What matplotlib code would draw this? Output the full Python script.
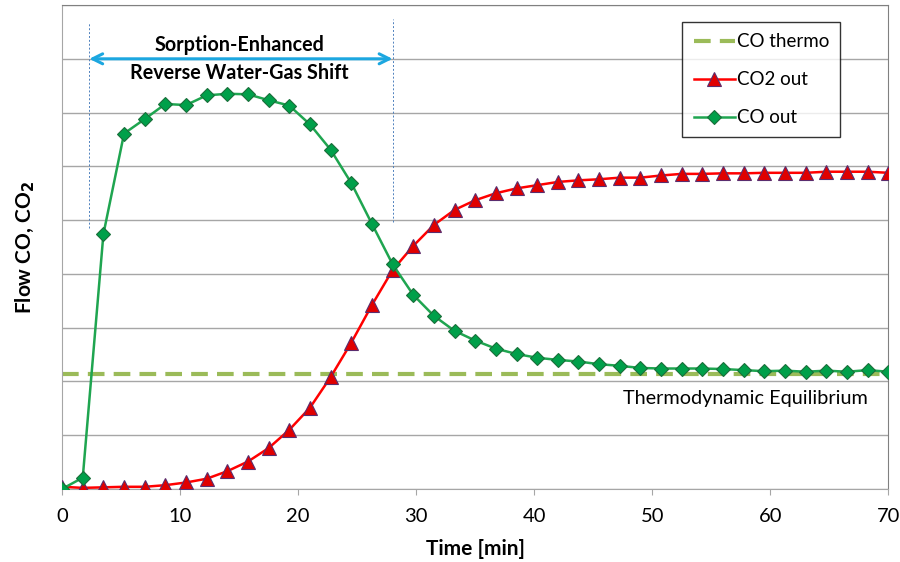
import matplotlib
matplotlib.use('Agg')
import matplotlib.pyplot as plt
import numpy as np

plt.rcParams['font.family'] = ['Lato', 'DejaVu Sans']

# time axis, sample every 1.75 min
time_min = [0, 1.75, 3.5, 5.25, 7, 8.75, 10.5, 12.25, 14, 15.75, 17.5, 19.25,
            21, 22.75, 24.5, 26.25, 28, 29.75, 31.5, 33.25, 35, 36.75, 38.5,
            40.25, 42, 43.75, 45.5, 47.25, 49, 50.75, 52.5, 54.25, 56, 57.75,
            59.5, 61.25, 63, 64.75, 66.5, 68.25, 70]

co_out = [0.0, 0.21, 4.74, 6.61, 6.88, 7.16, 7.14, 7.32, 7.35, 7.34, 7.23, 7.13,
          6.78, 6.31, 5.69, 4.93, 4.18, 3.61, 3.22, 2.94, 2.76, 2.61, 2.51,
          2.44, 2.40, 2.37, 2.32, 2.29, 2.25, 2.24, 2.24, 2.24, 2.23, 2.21,
          2.19, 2.20, 2.18, 2.20, 2.18, 2.21, 2.18]

co2_out = [0.04, 0.02, 0.03, 0.04, 0.04, 0.07, 0.12, 0.19, 0.33, 0.51, 0.76, 1.10,
           1.51, 2.08, 2.72, 3.42, 4.07, 4.52, 4.91, 5.19, 5.37, 5.50, 5.59,
           5.65, 5.71, 5.74, 5.76, 5.79, 5.79, 5.83, 5.86, 5.86, 5.87, 5.87,
           5.88, 5.88, 5.88, 5.90, 5.90, 5.90, 5.88]

co_thermo = 2.13
sorption_window = [2.3, 28.0]
xticks = [0, 10, 20, 30, 40, 50, 60, 70]

fig = plt.figure(figsize=(9, 5.62), dpi=100)
ax = fig.add_axes([0.069, 0.13, 0.918, 0.861])

# gridlines
ax.set_ylim(0, 9)
ax.set_xlim(0, 70)
ax.set_yticks(np.arange(0, 10, 1))
ax.yaxis.grid(True, color='#a6a6a6', lw=1)
ax.set_axisbelow(True)
ax.tick_params(axis='y', length=0, labelleft=False)
ax.set_xticks(xticks)
ax.tick_params(axis='x', direction='out', length=4, color='#a6a6a6',
               labelsize=14.5, pad=10)
for s in ['left', 'bottom']:
    ax.spines[s].set_color('#a6a6a6')
for s in ['top', 'right']:
    ax.spines[s].set_color('#808080')

ax.plot([0, 70], [co_thermo, co_thermo], ls=(0, (4, 2.2)), color='#9bbb59',
        lw=3, label='CO thermo', zorder=2)
ax.plot(time_min, co2_out, color='#ff0000', lw=1.8, marker='^', ms=10,
        mfc='#e00000', mec='#5a2d6e', mew=0.8, label='CO2 out', zorder=3)
ax.plot(time_min, co_out, color='#1fa550', lw=1.8, marker='D', ms=7.5,
        mfc='#00a04a', mec='#1a6e3a', mew=0.8, label='CO out', zorder=4)

# sorption-enhanced window
for xv, top, bot in [(sorption_window[0], 8.68, 4.85), (sorption_window[1], 8.74, 4.96)]:
    ax.plot([xv, xv], [bot, top], ls=(0, (2, 2)), color='#4f81bd', lw=0.7, zorder=1)
ax.annotate('', xy=(sorption_window[0], 8.0), xytext=(sorption_window[1], 8.0),
            arrowprops=dict(arrowstyle='<->', color='#1ca7e0', lw=2.2,
                            mutation_scale=18, shrinkA=0, shrinkB=0))
ax.text(15.0, 8.25, 'Sorption-Enhanced', ha='center', va='center',
        fontsize=14.2, fontweight='bold')
ax.text(15.0, 7.74, 'Reverse Water-Gas Shift', ha='center', va='center',
        fontsize=14.2, fontweight='bold')

ax.text(68.3, 1.69, 'Thermodynamic Equilibrium', ha='right', va='center', fontsize=14.3)

ax.set_xlabel('Time [min]', fontsize=15, fontweight='bold', labelpad=10)
ax.set_ylabel('Flow CO, CO$_\\mathbf{2}$', fontsize=15, fontweight='bold', labelpad=18)

leg = ax.legend(loc='upper right', bbox_to_anchor=(0.942, 0.965), fontsize=13.5,
                frameon=True, fancybox=False, handlelength=2.2, handletextpad=0.1,
                labelspacing=1.12, borderpad=0.6, borderaxespad=0)
leg.get_frame().set_edgecolor('black')
leg.get_frame().set_linewidth(1.0)

fig.savefig('out.png', dpi=100)
